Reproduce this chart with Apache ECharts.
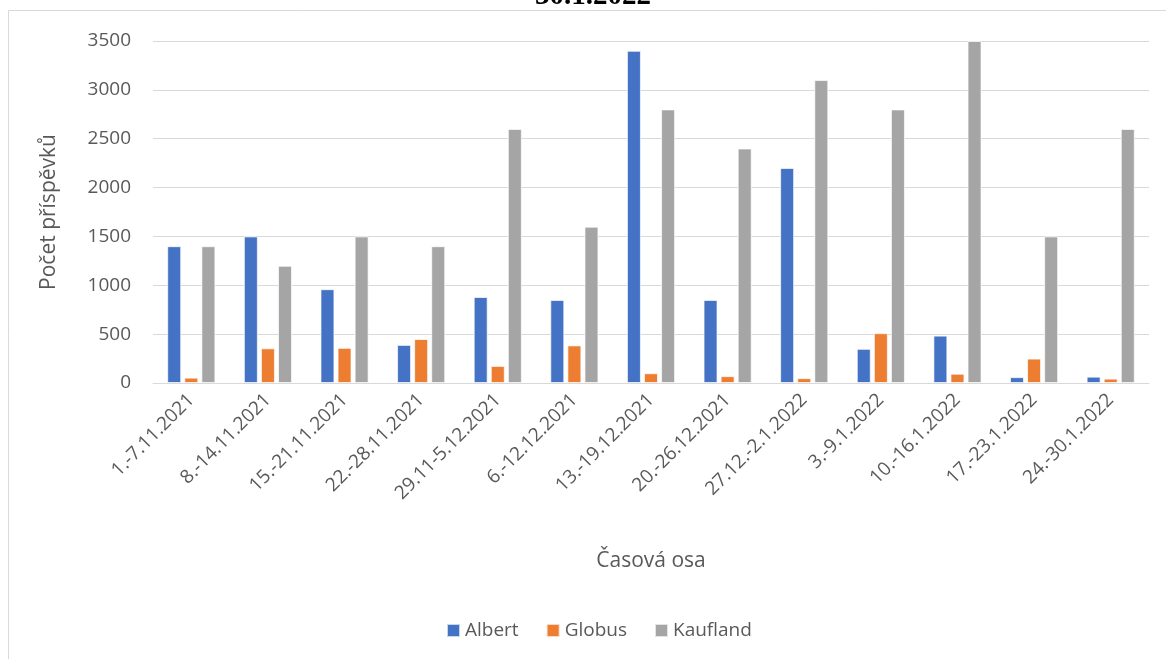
<!DOCTYPE html>
<html>
<head>
<meta charset="utf-8">
<script src="https://cdn.jsdelivr.net/npm/echarts@6/dist/echarts.min.js"></script>
<style>html,body{margin:0;padding:0;background:#fff;}#c{width:1166px;height:659px;}</style>
</head>
<body>
<div id="c"></div>
<script>
const categories = ['1.-7.11.2021','8.-14.11.2021','15.-21.11.2021','22.-28.11.2021','29.11-5.12.2021','6.-12.12.2021','13.-19.12.2021','20.-26.12.2021','27.12.-2.1.2022','3.-9.1.2022','10.-16.1.2022','17.-23.1.2022','24.-30.1.2022'];
const albert = [1400,1500,960,390,880,850,3400,850,2200,350,485,60,65];
const globus = [55,355,360,450,175,385,100,70,50,510,95,250,45];
const kaufland = [1400,1200,1500,1400,2600,1600,2800,2400,3100,2800,3500,1500,2600];
const yTicks = [0,500,1000,1500,2000,2500,3000,3500];
const titleText = '30.1.2022';

const font = '"Open Sans", Lato, sans-serif';
const chart = echarts.init(document.getElementById('c'));
const mk = (name, data, color) => ({
  name, type: 'bar', data, barWidth: 14, barGap: '22%',
  itemStyle: { color, borderColor: 'rgba(255,255,255,0.7)', borderWidth: 1 }
});
chart.setOption({
  animation: false,
  graphic: [
    { type: 'rect', shape: { x: 8.5, y: 10.5, width: 1200, height: 700 }, style: { fill: 'none', stroke: '#d9d9d9', lineWidth: 1 }, z: -1 },
    { type: 'text', x: 593, y: -3, style: { text: titleText, font: 'bold 29px "Liberation Serif", "DejaVu Serif", serif', fill: '#000', textAlign: 'center', textVerticalAlign: 'middle' } }
  ],
  grid: { left: 153, right: 17, top: 41, bottom: 276, containLabel: false },
  legend: {
    left: 441, top: 616, itemWidth: 13, itemHeight: 13, itemGap: 27,
    icon: 'rect',
    textStyle: { fontFamily: font, fontSize: 19, color: '#595959' },
    data: ['Albert','Globus','Kaufland']
  },
  xAxis: {
    type: 'category', data: categories,
    name: 'Časová osa', nameLocation: 'middle', nameGap: 168,
    nameTextStyle: { fontFamily: font, fontSize: 21, color: '#595959' },
    axisLine: { lineStyle: { color: '#d9d9d9', width: 1 } },
    axisTick: { show: false },
    axisLabel: { rotate: 45, interval: 0, margin: 14, fontFamily: font, fontSize: 19, color: '#595959' }
  },
  yAxis: {
    type: 'value', min: 0, max: 3500, interval: 500,
    name: 'Počet příspěvků', nameLocation: 'middle', nameGap: 93,
    nameTextStyle: { fontFamily: font, fontSize: 21, color: '#595959' },
    axisLine: { show: false }, axisTick: { show: false },
    axisLabel: { margin: 22, fontFamily: font, fontSize: 19, color: '#595959', formatter: v => String(v) },
    splitLine: { lineStyle: { color: '#d9d9d9', width: 1 } }
  },
  series: [
    mk('Albert', albert, '#4472C4'),
    mk('Globus', globus, '#ED7D31'),
    mk('Kaufland', kaufland, '#A5A5A5')
  ]
});
</script>
</body>
</html>
